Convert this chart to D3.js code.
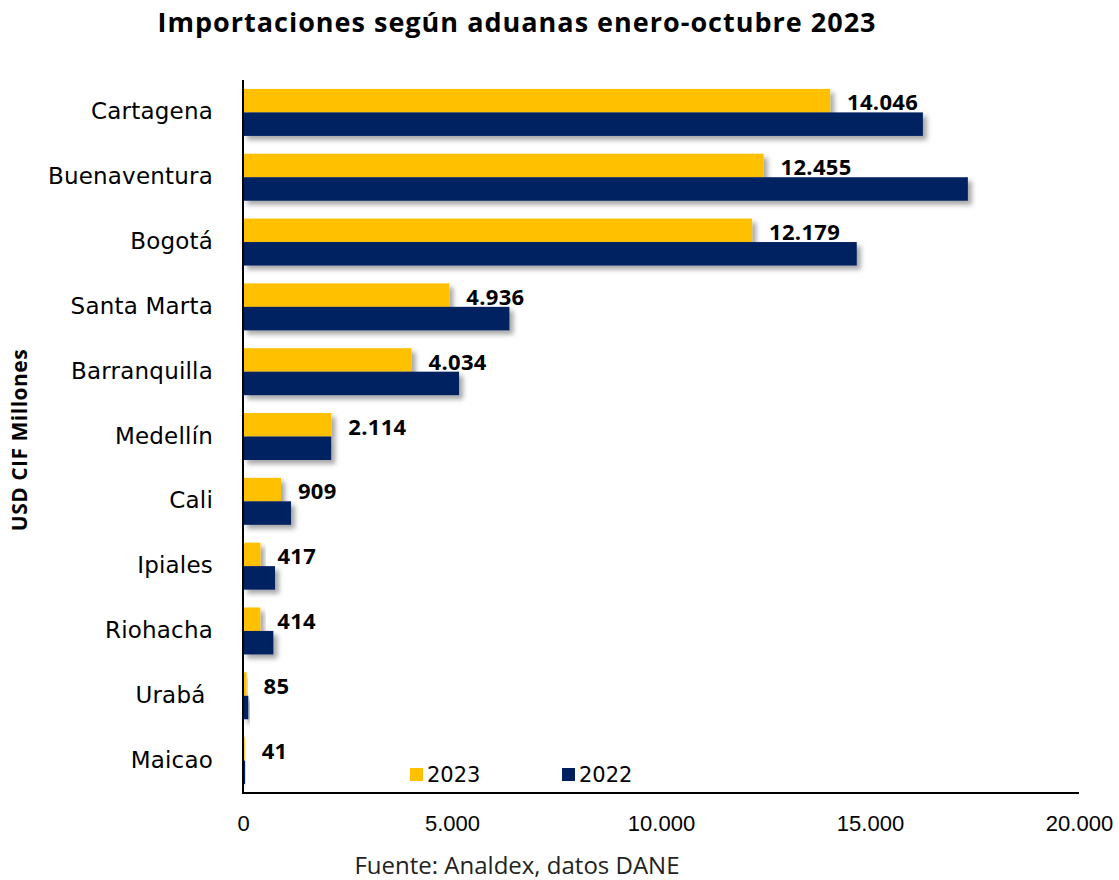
<!DOCTYPE html>
<html>
<head>
<meta charset="utf-8">
<script src="https://cdn.jsdelivr.net/npm/d3@7"></script>
<style>
  body { margin: 0; background: #fff; }
</style>
</head>
<body>
<div id="chart"></div>
<script>
var aduanas = ["Cartagena", "Buenaventura", "Bogotá", "Santa Marta", "Barranquilla", "Medellín", "Cali", "Ipiales", "Riohacha", "Urabá\u00a0", "Maicao"]
var series = ["2023", "2022"]
var valores2023 = [14046, 12455, 12179, 4936, 4034, 2114, 909, 417, 414, 85, 41]
var valores2022 = [16265, 17341, 14683, 6373, 5169, 2110, 1149, 766, 726, 127, 50]
var xTicks = [0, 5000, 10000, 15000, 20000]

var colors = { "2023": "#FFC000", "2022": "#002060" }
var es = d3.formatLocale({ decimal: ",", thousands: ".", grouping: [3], currency: ["", ""] })
var nf = es.format(",d")

var data = aduanas.map((a, i) => ({ name: a, "2023": valores2023[i], "2022": valores2022[i] }))

var W = 1119, H = 880
var svg = d3.select("#chart").append("svg")
    .attr("width", W)
    .attr("height", H)
    .style("font-family", "'DejaVu Sans', sans-serif")

var defs = svg.append("defs")
defs.append("filter")
    .attr("id", "sombra")
    .attr("x", "-20%").attr("y", "-40%")
    .attr("width", "150%").attr("height", "200%")
    .append("feDropShadow")
    .attr("dx", 4)
    .attr("dy", 4)
    .attr("stdDeviation", 2.5)
    .attr("flood-color", "#000")
    .attr("flood-opacity", 0.35)

var x = d3.scaleLinear().domain([0, 20000]).range([243, 1079])
var y = d3.scaleBand().domain(aduanas).range([80, 793]).paddingInner(0.275).paddingOuter(0.1375)
var y1 = d3.scaleBand().domain(series).range([0, y.bandwidth()])

// title
svg.append("text")
    .text("Importaciones según aduanas enero-octubre 2023")
    .attr("x", 517)
    .attr("y", 32)
    .attr("text-anchor", "middle")
    .style("font-family", "'Open Sans', sans-serif")
    .style("font-weight", 700)
    .style("font-size", "27px")
    .style("letter-spacing", "1px")
    .attr("fill", "#000")

// bars
var groups = svg.selectAll("g.aduana")
    .data(data)
    .enter()
    .append("g")
    .attr("class", "aduana")
    .attr("transform", d => "translate(0," + y(d.name) + ")")

groups.selectAll("rect")
    .data(d => series.map(s => ({ s: s, v: d[s] })))
    .enter()
    .append("rect")
    .attr("x", x(0))
    .attr("y", d => y1(d.s))
    .attr("width", d => x(d.v) - x(0))
    .attr("height", y1.bandwidth())
    .attr("fill", d => colors[d.s])
    .attr("filter", "url(#sombra)")

// value labels (2023)
groups.append("text")
    .text(d => nf(d["2023"]))
    .attr("x", d => x(d["2023"]) + 17)
    .attr("y", y1("2023") + y1.bandwidth() - 2)
    .style("font-family", "'Open Sans', sans-serif")
    .style("font-weight", 700)
    .style("font-size", "22px")
    .style("letter-spacing", "0.3px")
    .attr("fill", "#000")

// category labels
svg.append("g").selectAll("text")
    .data(aduanas)
    .enter()
    .append("text")
    .text(d => d)
    .attr("x", 213)
    .attr("y", d => y(d) + y.bandwidth() / 2 - 1)
    .attr("text-anchor", "end")
    .attr("dominant-baseline", "central")
    .style("font-size", "23px")
    .style("letter-spacing", "0.2px")
    .attr("fill", "#000")

// axes
svg.append("line")
    .attr("x1", x(0)).attr("x2", x(0))
    .attr("y1", 80).attr("y2", 793)
    .attr("stroke", "#000").attr("stroke-width", 2)
svg.append("line")
    .attr("x1", x(0) - 1).attr("x2", x(20000))
    .attr("y1", 793).attr("y2", 793)
    .attr("stroke", "#000").attr("stroke-width", 2)

var xAxis = svg.append("g")
    .attr("transform", "translate(0,793)")
    .call(d3.axisBottom(x).tickValues(xTicks).tickFormat(nf).tickSize(0).tickPadding(22))
xAxis.select(".domain").remove()
xAxis.selectAll("text")
    .style("font-family", "'Liberation Sans', Arial, sans-serif")
    .style("font-size", "22px")
    .attr("fill", "#000")

// y title
svg.append("text")
    .text("USD CIF Millones")
    .attr("transform", "translate(27,440) rotate(-90)")
    .attr("text-anchor", "middle")
    .style("font-family", "'Open Sans', sans-serif")
    .style("font-weight", 700)
    .style("font-size", "21px")
    .style("letter-spacing", "0.5px")
    .attr("fill", "#000")

// legend
var legend = svg.append("g")
var legX = { "2023": 410, "2022": 562 }
series.forEach(s => {
    legend.append("rect")
        .attr("x", legX[s])
        .attr("y", 768)
        .attr("width", 13)
        .attr("height", 13)
        .attr("fill", colors[s])
    legend.append("text")
        .text(s)
        .attr("x", legX[s] + 17)
        .attr("y", 782)
        .style("font-size", "21px")
        .attr("fill", "#000")
})

// source
svg.append("text")
    .text("Fuente: Analdex, datos DANE")
    .attr("x", 517)
    .attr("y", 874)
    .attr("text-anchor", "middle")
    .style("font-family", "'Open Sans', sans-serif")
    .style("font-size", "24px")
    .attr("fill", "#222")
</script>
</body>
</html>
